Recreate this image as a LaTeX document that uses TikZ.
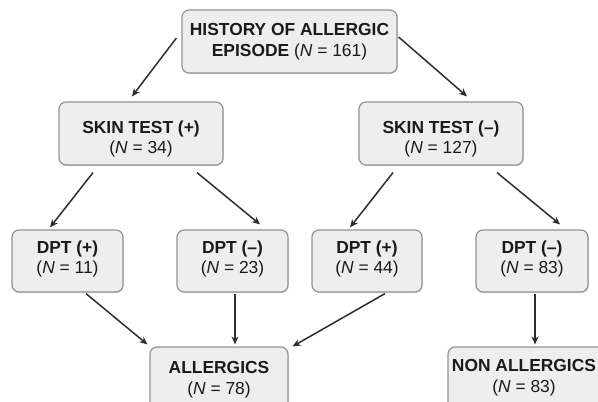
\documentclass[tikz,border=0pt]{standalone}
\usepackage{fontspec}
\setmainfont{Liberation Sans}
\usetikzlibrary{arrows.meta,calc,shadows}
\definecolor{boxfill}{HTML}{EEEEEE}
\definecolor{boxline}{HTML}{939393}
\definecolor{arrowc}{HTML}{2E2E2E}
\definecolor{txtc}{HTML}{1A1A1A}
\begin{document}
\begin{tikzpicture}[x=1pt,y=-1pt,
  flowbox/.style={draw=boxline, fill=boxfill, line width=1.2pt, rounded corners=7pt, inner sep=0pt,
    drop shadow={shadow xshift=0.8pt,shadow yshift=-1pt,opacity=0.25}},
  boxtext/.style={align=center, text=txtc, inner sep=0pt, font=\fontsize{17.4}{20.8}\selectfont},
  arr/.style={draw=arrowc, line width=1.5pt, -{Stealth[length=8pt,width=7pt]}}]
\useasboundingbox (0,0) rectangle (598,402);
\clip (0,0) rectangle (598,402);
\fill[white] (0,0) rectangle (598,402);
% boxes
\node[flowbox, minimum width=215pt, minimum height=63pt] (top) at (289.5,41.5) {};
\node[flowbox, minimum width=164pt, minimum height=63pt] (s1) at (141,133.5) {};
\node[flowbox, minimum width=164pt, minimum height=63pt] (s2) at (441,133.5) {};
\node[flowbox, minimum width=111pt, minimum height=62pt] (d1) at (67.5,261) {};
\node[flowbox, minimum width=111pt, minimum height=62pt] (d2) at (232.5,261) {};
\node[flowbox, minimum width=110pt, minimum height=62pt] (d3) at (367,261) {};
\node[flowbox, minimum width=112pt, minimum height=62pt] (d4) at (532,261) {};
\node[flowbox, minimum width=138pt, minimum height=63pt] (al) at (219,378.5) {};
\node[flowbox, minimum width=167pt, minimum height=63pt] (nal) at (531.5,378.5) {};
% texts
\node[boxtext] (toptext) at (289.5,41.6) {\textbf{HISTORY OF ALLERGIC}\\\textbf{EPISODE} (\textit{N} = 161)};
\node[boxtext] (s1text) at (141,139) {\textbf{SKIN TEST (+)}\\(\textit{N} = 34)};
\node[boxtext] (s2text) at (441,139) {\textbf{SKIN TEST (–)}\\(\textit{N} = 127)};
\node[boxtext] (d1text) at (67.5,259) {\textbf{DPT (+)}\\(\textit{N} = 11)};
\node[boxtext] (d2text) at (232.5,259) {\textbf{DPT (–)}\\(\textit{N} = 23)};
\node[boxtext] (d3text) at (367,259) {\textbf{DPT (+)}\\(\textit{N} = 44)};
\node[boxtext] (d4text) at (532,259) {\textbf{DPT (–)}\\(\textit{N} = 83)};
\node[boxtext] (altext) at (219,379.6) {\textbf{ALLERGICS}\\(\textit{N} = 78)};
\node[boxtext] (naltext) at (524,378) {\textbf{NON ALLERGICS}\\(\textit{N} = 83)};
% connectors
\draw[arr] ($(top.west)+(-5,-3.5)$) -- ($(s1.north)+(-9,-5)$);
\draw[arr] ($(top.east)+(1,-4.5)$) -- ($(s2.north)+(26,-5)$);
\draw[arr] ($(s1.south)+(-48,7)$) -- ($(d1.north)+(-17.5,-2)$);
\draw[arr] ($(s1.south)+(56,7)$) -- ($(d2.north)+(27.5,-5)$);
\draw[arr] ($(s2.south)+(-48,7)$) -- ($(d3.north)+(-17,-2)$);
\draw[arr] ($(s2.south)+(56,7)$) -- ($(d4.north)+(28,-5)$);
\draw[arr] ($(d1.south)+(18.5,1)$) -- ($(al.north west)+(-2,-2)$);
\draw[arr] ($(d2.south)+(2.5,1)$) -- ($(al.north)+(16,-2)$);
\draw[arr] ($(d3.south)+(18,1)$) -- ($(al.north east)+(4,0)$);
\draw[arr] ($(d4.south)+(3,1)$) -- ($(nal.north)+(3.5,-2)$);
\end{tikzpicture}
\end{document}
